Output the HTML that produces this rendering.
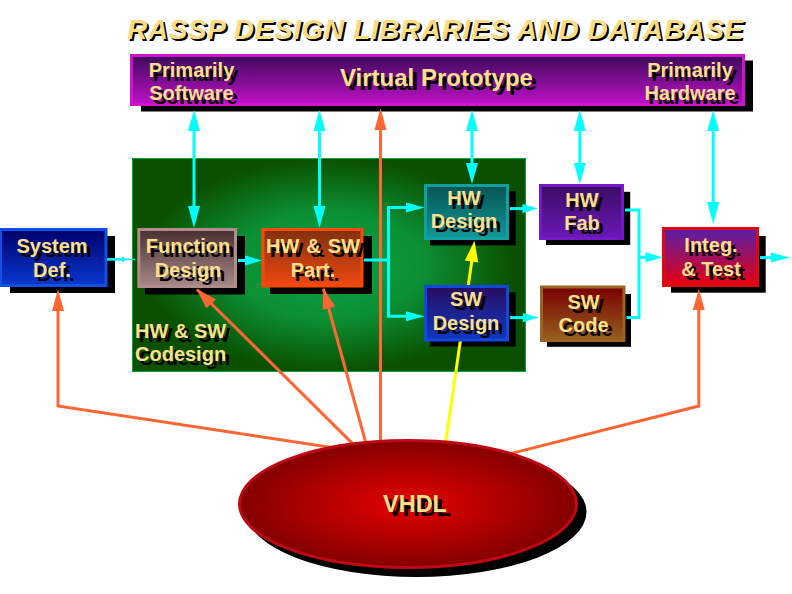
<!DOCTYPE html>
<html><head><meta charset="utf-8">
<style>
html,body{margin:0;padding:0;background:#fff;}
#c{position:relative;width:792px;height:594px;overflow:hidden;background:#fff;font-family:"Liberation Sans",sans-serif;}
svg{position:absolute;left:0;top:0;}
.t{position:absolute;color:#fce08c;font-weight:bold;text-align:center;white-space:nowrap;text-shadow:4px 4px 0 #000;font-size:20px;line-height:23.7px;}
#title{position:absolute;left:127px;top:14px;font-size:28px;line-height:32px;font-weight:bold;font-style:italic;color:#fadc84;text-shadow:2px 2px 0 #000;white-space:nowrap;letter-spacing:0.6px;}
</style></head><body>
<div id="c">
<svg width="792" height="594" viewBox="0 0 792 594">
<defs>
<linearGradient id="gPurple" x1="0" y1="0" x2="0" y2="1"><stop offset="0" stop-color="#3c0a5a"/><stop offset="1" stop-color="#c010c8"/></linearGradient>
<linearGradient id="gBlue" x1="0" y1="0" x2="0" y2="1"><stop offset="0" stop-color="#00006a"/><stop offset="1" stop-color="#0838d0"/></linearGradient>
<linearGradient id="gMauve" x1="0" y1="0" x2="0" y2="1"><stop offset="0" stop-color="#483030"/><stop offset="1" stop-color="#a88888"/></linearGradient>
<linearGradient id="gOrange" x1="0" y1="0" x2="0" y2="1"><stop offset="0" stop-color="#803010"/><stop offset="1" stop-color="#f04810"/></linearGradient>
<linearGradient id="gTeal" x1="0" y1="0" x2="0" y2="1"><stop offset="0" stop-color="#065454"/><stop offset="1" stop-color="#109898"/></linearGradient>
<linearGradient id="gNavy" x1="0" y1="0" x2="0" y2="1"><stop offset="0" stop-color="#280c60"/><stop offset="1" stop-color="#1038c0"/></linearGradient>
<linearGradient id="gViolet" x1="0" y1="0" x2="0" y2="1"><stop offset="0" stop-color="#3c0c64"/><stop offset="1" stop-color="#6c18b8"/></linearGradient>
<linearGradient id="gBrown" x1="0" y1="0" x2="0" y2="1"><stop offset="0" stop-color="#780000"/><stop offset="1" stop-color="#986020"/></linearGradient>
<linearGradient id="gInteg" x1="0" y1="0" x2="0" y2="1"><stop offset="0" stop-color="#5820a8"/><stop offset="1" stop-color="#e80010"/></linearGradient>
<radialGradient id="gGreen" cx="0.5" cy="0.5" r="0.5" gradientTransform="translate(0.5 0.5) scale(0.95 1) translate(-0.5 -0.5)"><stop offset="0" stop-color="#08a444"/><stop offset="0.5" stop-color="#0c9034"/><stop offset="1" stop-color="#0a5000"/></radialGradient>
<radialGradient id="gRed" cx="0.5" cy="0.5" r="0.5"><stop offset="0" stop-color="#e60000"/><stop offset="1" stop-color="#840000"/></radialGradient>
</defs>

<!-- green codesign region -->
<rect x="132.5" y="158.5" width="393" height="213" fill="url(#gGreen)" stroke="#08a038" stroke-width="1"/>

<!-- shadows -->
<g fill="#000">
<rect x="141" y="60.5" width="612" height="51"/>
<rect x="10" y="236" width="105" height="57"/>
<rect x="145" y="236" width="100" height="58.5"/>
<rect x="270" y="236" width="102" height="58"/>
<rect x="430" y="191.200" width="85.700" height="54.200"/>
<rect x="430" y="292.300" width="85.700" height="54.200"/>
<rect x="546" y="191.800" width="84.200" height="53.200"/>
<rect x="547" y="294" width="84" height="52.800"/>
<rect x="671" y="236" width="94.700" height="56.700"/>
<ellipse cx="416.500" cy="512" rx="170" ry="65"/>
</g>

<!-- orange/yellow lines behind boxes -->
<g stroke="#ff6633" stroke-width="3" fill="none">
<polyline points="58,300 58,406 408,459"/>
<line x1="197" y1="289.500" x2="395.400" y2="486.100"/>
<line x1="323.400" y1="289" x2="377.700" y2="486"/>
<line x1="380.5" y1="120" x2="380.5" y2="470"/>
<polyline points="698.8,300 698.8,406 408,479.5"/>
</g>
<line x1="472.500" y1="256" x2="444.400" y2="452" stroke="#ffff00" stroke-width="3"/>

<!-- boxes -->
<rect x="131.5" y="55.5" width="612" height="49" fill="url(#gPurple)" stroke="#cc14cc" stroke-width="3"/>
<rect x="0.500" y="229.500" width="105.500" height="56" fill="url(#gBlue)" stroke="#1050e8" stroke-width="3"/>
<rect x="138.800" y="229.5" width="96.700" height="57" fill="url(#gMauve)" stroke="#b08c8c" stroke-width="3"/>
<rect x="263" y="229.5" width="99" height="56.5" fill="url(#gOrange)" stroke="#ff4808" stroke-width="3"/>
<rect x="425.5" y="185.5" width="82" height="53" fill="url(#gTeal)" stroke="#10a0a0" stroke-width="3"/>
<rect x="425.500" y="286.5" width="82" height="53.500" fill="url(#gNavy)" stroke="#1048e0" stroke-width="3"/>
<rect x="540.5" y="185.5" width="82" height="53" fill="url(#gViolet)" stroke="#7418c8" stroke-width="3"/>
<rect x="541.5" y="287" width="82.5" height="53.500" fill="url(#gBrown)" stroke="#9a6420" stroke-width="3"/>
<rect x="663.5" y="228.5" width="94" height="57" fill="url(#gInteg)" stroke="#e00810" stroke-width="3"/>

<!-- ellipse -->
<ellipse cx="408" cy="504" rx="168.500" ry="63.500" fill="url(#gRed)" stroke="#c00814" stroke-width="3"/>

<!-- arrowheads orange -->
<g fill="#ff6633">
<polygon points="58,289 52,311 64,311"/>
<polygon points="698.8,289 692.8,310 704.8,310"/>
<polygon points="380.5,108 374.500,130 386.500,130"/>
<polygon points="196.300,288.600 206.300,308.200 216,299.400"/>
<polygon points="323.200,287.800 322.800,309.800 335.200,306.400"/>
</g>
<polygon points="474.500,240.800 464.800,260.500 478.200,262.500" fill="#ffff00"/>

<!-- cyan arrows -->
<g stroke="#00ffff" stroke-width="3" fill="none">
<line x1="194" y1="128" x2="194" y2="210"/>
<line x1="319.5" y1="128" x2="319.500" y2="210"/>
<line x1="472" y1="128" x2="472" y2="166"/>
<line x1="579.800" y1="128" x2="579.800" y2="166"/>
<line x1="713.200" y1="128" x2="713.200" y2="205"/>
<polyline points="364,260 388.500,260"/>
<polyline points="410,207.500 388.500,207.500 388.500,316.300 410,316.300"/>
<line x1="238" y1="260.500" x2="250" y2="260.500"/>
<line x1="510" y1="208.600" x2="526" y2="208.600"/>
<line x1="510" y1="317.600" x2="526" y2="317.600"/>
<polyline points="625,210 639,210 639,317.400 626.500,317.400"/>
<line x1="639" y1="257.300" x2="650" y2="257.300"/>
<line x1="760" y1="257.600" x2="776" y2="257.600"/>
</g>
<line x1="107" y1="259.400" x2="124" y2="259.400" stroke="#00ffff" stroke-width="2.600"/><line x1="124" y1="259.400" x2="135" y2="259.400" stroke="#00ffff" stroke-width="1.400"/>
<g fill="#00ffff">
<polygon points="194,110 188,131 200,131"/><polygon points="194,228 188,206 200,206"/>
<polygon points="319.500,110 313.500,131 325.500,131"/><polygon points="319.500,228 313.500,206 325.500,206"/>
<polygon points="472,110 466,131 478,131"/><polygon points="472,184 466,163 478,163"/>
<polygon points="579.800,110 573.800,131 585.800,131"/><polygon points="579.800,184 573.800,163 585.800,163"/>
<polygon points="713.200,110 707.200,131 719.200,131"/><polygon points="713.200,224 707.200,202 719.200,202"/>
<polygon points="262,260.500 245,255.500 245,265.500"/>
<polygon points="424.500,207.500 406,202.500 406,212.500"/>
<polygon points="424.500,316.300 406,311.300 406,321.300"/>
<polygon points="538,208.600 522.500,204 522.500,213.200"/>
<polygon points="539,317.600 522.800,313 522.800,322.200"/>
<polygon points="662.500,257.300 645.500,252.300 645.500,262.300"/>
<polygon points="790,257.600 771,252.600 771,262.600"/>
<polygon points="127.500,259.400 122,256.200 122,262.200"/>
</g>
</svg>

<div id="title">RASSP DESIGN LIBRARIES AND DATABASE</div>
<div class="t" style="left:141.500px;top:58.500px;width:100px;">Primarily<br>Software</div>
<div class="t" style="left:640px;top:58.500px;width:100px;">Primarily<br>Hardware</div>
<div class="t" id="vp" style="left:336.500px;top:63.500px;width:200px;font-size:24px;line-height:28px;">Virtual Prototype</div>
<div class="t" style="left:2px;top:235px;width:100px;">System<br>Def.</div>
<div class="t" style="left:138px;top:235px;width:100px;">Function<br>Design</div>
<div class="t" style="left:263px;top:235px;width:100px;word-spacing:1.5px;">HW &amp; SW<br>Part.</div>
<div class="t" style="left:414px;top:186.500px;width:100px;">HW<br>Design</div>
<div class="t" style="left:416px;top:288px;width:100px;">SW<br>Design</div>
<div class="t" style="left:532px;top:188.500px;width:100px;">HW<br>Fab</div>
<div class="t" style="left:533.500px;top:290.500px;width:100px;">SW<br>Code</div>
<div class="t" style="left:661px;top:234px;width:100px;">Integ.<br>&amp; Test</div>
<div class="t" style="left:135px;top:319.500px;text-align:left;">HW &amp; SW<br>Codesign</div>
<div class="t" id="vhdl" style="left:365px;top:490.400px;width:100px;font-size:23.500px;line-height:28px;text-shadow:4px 4px 0 #000;">VHDL</div>
</div>
</body></html>
